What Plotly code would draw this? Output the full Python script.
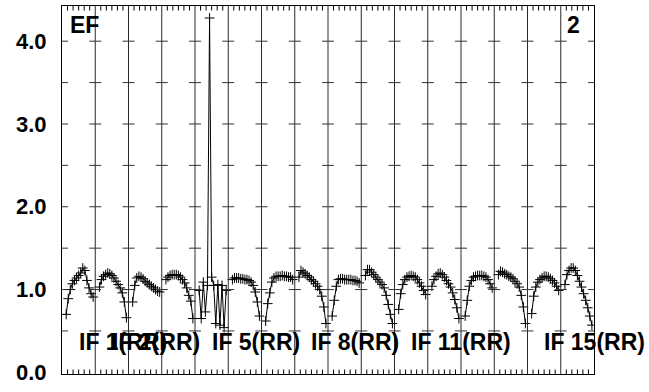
import plotly.graph_objects as go

# ---------------- data ----------------
chan_per_if = 16
channels = list(range(2, 16))          # plotted channels inside each IF

if01 = [0.70, 0.89, 1.00, 1.07, 1.11, 1.14, 1.17, 1.20, 1.26, 1.23, 1.11, 1.02, 0.95, 0.91]
if02 = [1.03, 1.12, 1.16, 1.18, 1.20, 1.19, 1.17, 1.14, 1.10, 1.06, 1.02, 0.96, 0.85, 0.66]
if03 = [0.85, 1.05, 1.14, 1.16, 1.15, 1.13, 1.10, 1.08, 1.06, 1.04, 1.02, 1.00, 0.98, 0.97]
if04 = [1.12, 1.15, 1.17, 1.18, 1.18, 1.18, 1.17, 1.15, 1.12, 1.08, 1.02, 0.93, 0.86, 0.65]
if05 = [0.99, 0.65, 1.09, 0.73, 1.05, 4.28, 1.15, 1.05, 0.59, 1.06, 0.57, 1.05, 0.54, 0.99]
if06 = [1.12, 1.14, 1.14, 1.14, 1.13, 1.13, 1.12, 1.12, 1.11, 1.09, 1.05, 0.97, 0.85, 0.68]
if07 = [0.62, 0.83, 0.96, 1.09, 1.14, 1.16, 1.16, 1.16, 1.17, 1.16, 1.16, 1.15, 1.15, 1.12]
if08 = [1.15, 1.23, 1.21, 1.19, 1.17, 1.15, 1.12, 1.10, 1.07, 1.04, 1.00, 0.92, 0.79, 0.59]
if09 = [0.68, 0.87, 1.04, 1.12, 1.13, 1.13, 1.12, 1.12, 1.12, 1.12, 1.11, 1.11, 1.10, 1.08]
if10 = [1.17, 1.24, 1.24, 1.21, 1.18, 1.15, 1.12, 1.09, 1.06, 1.02, 0.93, 0.82, 0.70, 0.59]
if11 = [0.76, 0.95, 1.06, 1.12, 1.15, 1.16, 1.17, 1.16, 1.15, 1.12, 1.08, 1.04, 0.99, 0.94]
if12 = [1.04, 1.12, 1.16, 1.19, 1.20, 1.18, 1.15, 1.11, 1.07, 1.03, 0.96, 0.88, 0.78, 0.65]
if13 = [0.68, 0.87, 1.04, 1.11, 1.15, 1.16, 1.17, 1.17, 1.17, 1.16, 1.15, 1.12, 1.07, 1.02]
if14 = [1.18, 1.22, 1.21, 1.19, 1.18, 1.16, 1.15, 1.13, 1.10, 1.07, 1.03, 0.93, 0.79, 0.59]
if15 = [0.71, 0.92, 1.03, 1.09, 1.12, 1.14, 1.16, 1.16, 1.15, 1.13, 1.11, 1.08, 1.04, 0.99]
if16 = [1.06, 1.18, 1.23, 1.26, 1.26, 1.23, 1.17, 1.10, 1.03, 0.95, 0.87, 0.78, 0.68, 0.57]

if_values = [if01, if02, if03, if04, if05, if06, if07, if08,
             if09, if10, if11, if12, if13, if14, if15, if16]
n_if = len(if_values)

label_ifs = [1, 2, 5, 8, 11, 15]
label_texts = ["IF 1(RR)", "IF 2(RR)", "IF 5(RR)", "IF 8(RR)", "IF 11(RR)", "IF 15(RR)"]
label_level = 0.366

ytick_vals = [0, 1, 2, 3, 4]
ytick_text = ["0.0", "1.0", "2.0", "3.0", "4.0"]
cross_levels = [0.5, 1.0, 1.5, 2.0, 2.5, 3.0, 3.5, 4.0]

corner_left = "EF"
corner_right = "2"

# ---------------- figure ----------------
FONT = "Liberation Sans, Arial, Helvetica, sans-serif"
fig = go.Figure()

for i, vals in enumerate(if_values):
    xs = [i * chan_per_if + c for c in channels]
    fig.add_trace(go.Scatter(
        x=xs, y=vals, mode="lines+markers",
        line=dict(color="black", width=1),
        marker=dict(symbol="cross-thin", size=7,
                    line=dict(color="black", width=1)),
        showlegend=False, hoverinfo="skip"))

shapes = []
xmax = n_if * chan_per_if
plot_h = 368.0
# IF boundary lines
for k in range(1, n_if):
    shapes.append(dict(type="line", xref="x", yref="paper",
                       x0=k * chan_per_if, x1=k * chan_per_if, y0=0, y1=1,
                       line=dict(color="#2a2a2a", width=1)))
# minor ticks top and bottom
tl = 4.5 / plot_h
for k in range(n_if):
    for m in range(1, 6):
        xv = k * chan_per_if + chan_per_if * m / 6.0
        shapes.append(dict(type="line", xref="x", yref="paper", x0=xv, x1=xv,
                           y0=0, y1=tl, line=dict(color="black", width=1)))
        shapes.append(dict(type="line", xref="x", yref="paper", x0=xv, x1=xv,
                           y0=1 - tl, y1=1, line=dict(color="black", width=1)))
# crosses at boundaries
for k in range(0, n_if + 1):
    xb = k * chan_per_if
    x0 = 0 if k == 0 else -6
    x1 = 0 if k == n_if else 6
    for yv in cross_levels:
        shapes.append(dict(type="line", xref="x", yref="y", xsizemode="pixel",
                           xanchor=xb, x0=x0, x1=x1, y0=yv, y1=yv,
                           line=dict(color="#333333", width=1)))

annotations = []
for ifn, txt in zip(label_ifs, label_texts):
    annotations.append(dict(
        x=(ifn - 1) * chan_per_if + chan_per_if / 2.0, y=label_level,
        xref="x", yref="y", text=txt, showarrow=False,
        xanchor="left", yanchor="middle", xshift=-2,
        font=dict(family=FONT, size=23, color="black", weight="bold")))
annotations.append(dict(x=0.0105, y=0.948, xref="paper", yref="paper",
                        text=corner_left, showarrow=False, xanchor="left",
                        yanchor="middle",
                        font=dict(family=FONT, size=23, color="black", weight="bold")))
annotations.append(dict(x=0.945, y=0.948, xref="paper", yref="paper",
                        text=corner_right, showarrow=False, xanchor="left",
                        yanchor="middle",
                        font=dict(family=FONT, size=23, color="black", weight="bold")))

fig.update_layout(
    width=649, height=392, autosize=False,
    margin=dict(l=62, r=55, t=6, b=18, pad=0),
    paper_bgcolor="white", plot_bgcolor="white",
    shapes=shapes, annotations=annotations,
    xaxis=dict(range=[0, xmax], showgrid=False, zeroline=False,
               showticklabels=False, ticks="", showline=True, mirror=True,
               linecolor="black", linewidth=1),
    yaxis=dict(range=[-0.02, 4.425], showgrid=False, zeroline=False,
               tickmode="array", tickvals=ytick_vals, ticktext=ytick_text,
               ticks="", showline=True, mirror=True, linecolor="black",
               linewidth=1, ticklabelstandoff=10,
               tickfont=dict(family=FONT, size=22, color="black", weight="bold")),
)

fig.write_html("out.html",
               config={"displayModeBar": False, "staticPlot": True},
               post_script="document.body.style.margin='0';document.body.style.overflow='hidden';")
